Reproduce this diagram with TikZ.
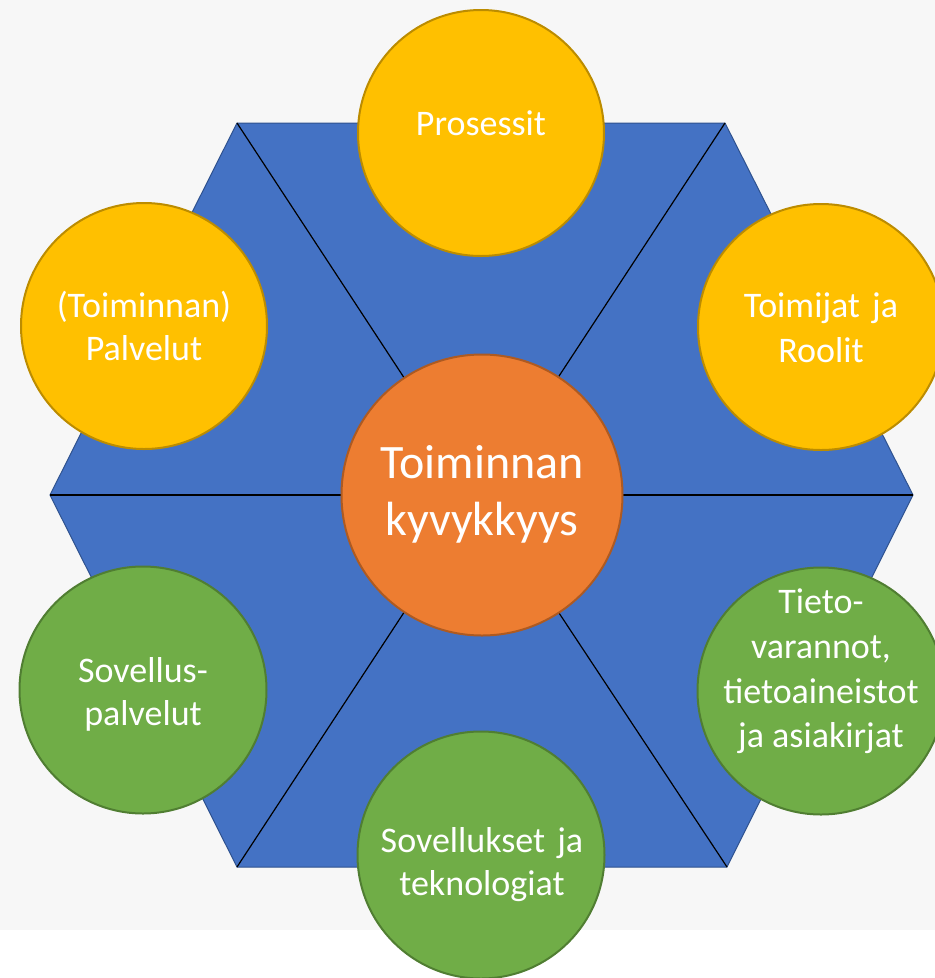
\documentclass[tikz,border=0pt]{standalone}
\usepackage{fontspec}
\setmainfont{Carlito}
\definecolor{bgcol}{HTML}{F7F7F7}
\definecolor{hexfill}{HTML}{4472C4}
\definecolor{hexline}{HTML}{2F528F}
\definecolor{yfill}{HTML}{FFC000}
\definecolor{yline}{HTML}{BC8C00}
\definecolor{ofill}{HTML}{ED7D31}
\definecolor{oline}{HTML}{AE5A21}
\definecolor{gfill}{HTML}{70AD47}
\definecolor{gline}{HTML}{507E32}
\tikzset{
  ycirc/.style={circle, fill=yfill, draw=yline, line width=2pt, inner sep=0pt, minimum size=246pt},
  gcirc/.style={circle, fill=gfill, draw=gline, line width=2pt, inner sep=0pt, minimum size=247pt},
  ocirc/.style={circle, fill=ofill, draw=oline, line width=2pt, inner sep=0pt, minimum size=281pt},
  lbl/.style={anchor=base, inner sep=0pt, text=white, font=\fontsize{36}{43}\selectfont},
  biglbl/.style={anchor=base, inner sep=0pt, text=white, font=\fontsize{48}{57}\selectfont},
  spoke/.style={draw=black, line width=1.2pt}
}
\begin{document}
\begin{tikzpicture}[x=1pt,y=-1pt]
\useasboundingbox (0,0) rectangle (935,978);
\fill[bgcol] (0,0) rectangle (935,930);
\fill[white] (0,930) rectangle (935,978);
% hexagon
\coordinate (O) at (481,495);
\coordinate (A) at (237,123);
\coordinate (B) at (725,123);
\coordinate (C) at (913,495);
\coordinate (D) at (727,867);
\coordinate (E) at (237,867);
\coordinate (F) at (50,495);
\filldraw[fill=hexfill, draw=hexline, line width=1pt] (A)--(B)--(C)--(D)--(E)--(F)--cycle;
\foreach \v in {A,B,C,D,E,F} \draw[spoke] (O)--(\v);
% circles
\node[ycirc] (pro) at (481,133) {};
\node[ycirc] (toi) at (821,327) {};
\node[ycirc] (pal) at (144,326) {};
\node[gcirc] (sp) at (143,690) {};
\node[gcirc] (tie) at (821,691) {};
\node[gcirc] (sov) at (481,855) {};
\node[ocirc] (cen) at (482,495) {};
% labels
\node[lbl] (pro1) at (481,135) {Prosessit};
\node[lbl] (toi1) at (821,317) {Toimijat\hspace{4pt} ja};
\node[lbl] (toi2) at (821,362) {Roolit};
\node[lbl] (pal1) at (144,317) {(Toiminnan)};
\node[lbl] (pal2) at (144,360) {Palvelut};
\node[lbl] (sp1) at (143,682) {Sovellus-};
\node[lbl] (sp2) at (143,725) {palvelut};
\node[lbl] (tie1) at (821,613) {Tieto-};
\node[lbl] (tie2) at (821,658) {varannot,};
\node[lbl] (tie3) at (821,703) {tietoaineistot};
\node[lbl] (tie4) at (821,747) {ja asiakirjat};
\node[lbl] (sov1) at (482,852) {Sovellukset\hspace{4pt} ja};
\node[lbl] (sov2) at (482,895) {teknologiat};
\node[biglbl] (cen1) at (482,478) {Toiminnan};
\node[biglbl] (cen2) at (482,535) {kyvykkyys};
\end{tikzpicture}
\end{document}
